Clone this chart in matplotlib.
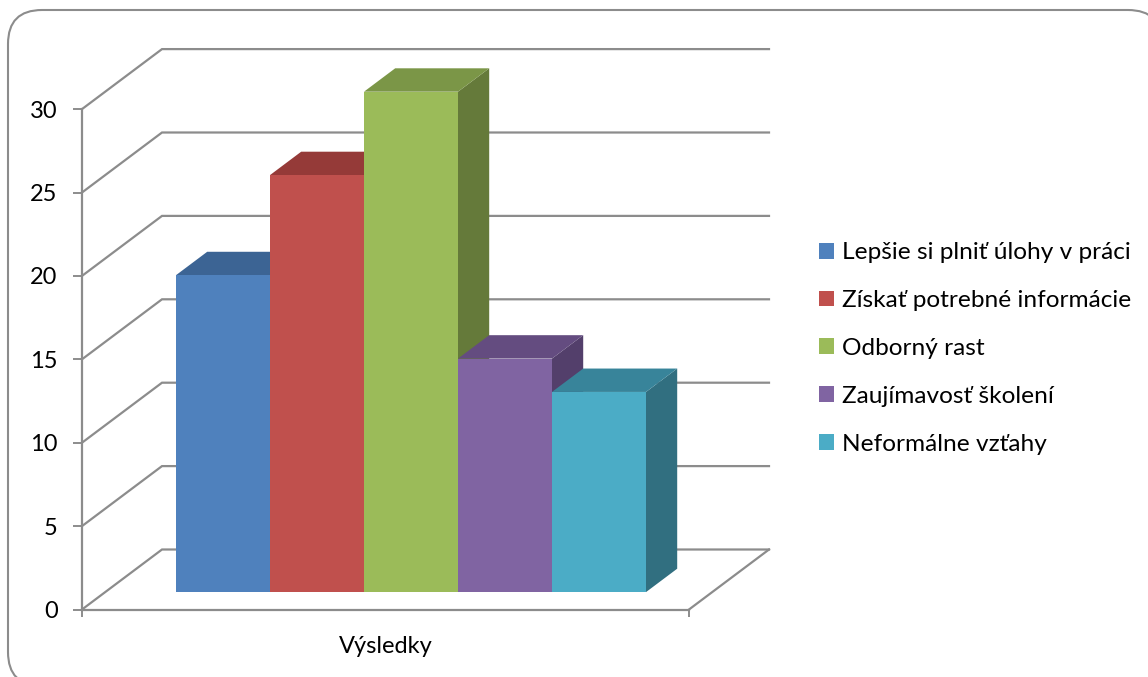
import matplotlib
matplotlib.use('Agg')
import matplotlib.pyplot as plt
from matplotlib.patches import FancyBboxPatch, Patch

categories = ['Lepšie si plniť úlohy v práci', 'Získať potrebné informácie', 'Odborný rast',
              'Zaujímavosť školení', 'Neformálne vzťahy']
values = [19, 25, 30, 14, 12]
front_colors = ['#4f81bd', '#c0504d', '#9bbb59', '#8064a2', '#4bacc6']
top_colors = ['#3c6494', '#953a38', '#7b9647', '#644c80', '#38849a']
side_colors = ['#335580', '#7f3230', '#657a3a', '#533f6b', '#316f80']
y_ticks = [0, 5, 10, 15, 20, 25, 30]
group_label = 'Výsledky'

W, H = 1148, 677
GRAY = '#8c8c8c'
UNIT_X = 94
UNIT_Y = 16.68
AX_BOTTOM = 609.5
AX_TOP = 48

# oblique depth of the box, in axis units
DEPTH_X = 80 / UNIT_X
DEPTH_Y = 60 / UNIT_Y
FLOOR_W = 607 / UNIT_X
BAR_LEFT = 70.8 / UNIT_X
BAR_NEAR = 0.29
BAR_FAR = 0.68


def project(x, v, d):
    return x + d * DEPTH_X, v + d * DEPTH_Y


def poly(ax, pts, **kw):
    xs, ys = zip(*[project(*p) for p in pts])
    ax.fill(xs, ys, clip_on=False, linewidth=0, **kw)


plt.rcParams['font.family'] = ['Lato', 'DejaVu Sans']
fig = plt.figure(figsize=(W / 100, H / 100), dpi=100)

# rounded frame around the chart area, runs off the right and bottom edges
frame_ax = fig.add_axes([0, 0, 1, 1])
frame_ax.set_xlim(0, W)
frame_ax.set_ylim(H, 0)
frame_ax.axis('off')
r = 34
frame_ax.add_patch(FancyBboxPatch((8 + r, 10 + r), 1154 - 2 * r, 676 - 2 * r,
                                  boxstyle=f'round,pad={r},rounding_size={r}',
                                  fc='white', ec=GRAY, lw=1.5, clip_on=True))

ax = fig.add_axes([82 / W, 1 - AX_BOTTOM / H, (771 - 82) / W, (AX_BOTTOM - AX_TOP) / H])
ax.patch.set_alpha(0)
ax.set_xlim(0, (771 - 82) / UNIT_X)
ax.set_ylim(0, (AX_BOTTOM - AX_TOP) / UNIT_Y)

# walls and floor lines
for v in y_ticks:
    x0, y0 = project(0, v, 0)
    x1, y1 = project(0, v, 1)
    x2, y2 = project(FLOOR_W, v, 1)
    ax.plot([x0, x1, x2], [y0, y1, y2], color=GRAY, lw=1.6, clip_on=False, zorder=1,
            solid_joinstyle='miter')
x3, y3 = project(FLOOR_W, 0, 0)
x4, y4 = project(FLOOR_W, 0, 1)
ax.plot([x3, x4], [y3, y4], color=GRAY, lw=1.6, clip_on=False, zorder=1)

for i, val in enumerate(values):
    left = BAR_LEFT + i
    right = left + 1
    poly(ax, [(right, 0, BAR_NEAR), (right, 0, BAR_FAR), (right, val, BAR_FAR), (right, val, BAR_NEAR)],
         color=side_colors[i], zorder=2 + i)
    poly(ax, [(left, val, BAR_NEAR), (left, val, BAR_FAR), (right, val, BAR_FAR), (right, val, BAR_NEAR)],
         color=top_colors[i], zorder=2 + i)
    poly(ax, [(left, 0, BAR_NEAR), (right, 0, BAR_NEAR), (right, val, BAR_NEAR), (left, val, BAR_NEAR)],
         color=front_colors[i], zorder=2 + i)

for side in ['top', 'right']:
    ax.spines[side].set_visible(False)
ax.spines['left'].set_bounds(0, 30)
ax.spines['bottom'].set_bounds(0, FLOOR_W)
for side in ['left', 'bottom']:
    ax.spines[side].set_color(GRAY)
    ax.spines[side].set_linewidth(1.6)

ax.set_yticks(y_ticks)
ax.set_xticks([0, FLOOR_W])
ax.set_xticklabels(['', ''])
ax.tick_params(axis='x', color=GRAY, length=5, width=1.4, direction='out')
ax.tick_params(axis='y', color=GRAY, length=6.5, width=1.4, direction='out',
               labelsize=17, pad=11, labelcolor='black')
ax.text(FLOOR_W / 2, -2.2, group_label, ha='center', va='center', fontsize=17, clip_on=False)

handles = [Patch(facecolor=c, edgecolor='none') for c in front_colors]
fig.legend(handles, categories, loc='center left', bbox_to_anchor=(819 / W, 1 - 348.5 / H),
           frameon=False, fontsize=17.6, handlelength=0.62, handleheight=0.62,
           handletextpad=0.33, labelspacing=1.1, borderpad=0, borderaxespad=0)

fig.savefig('out.png', dpi=100)
